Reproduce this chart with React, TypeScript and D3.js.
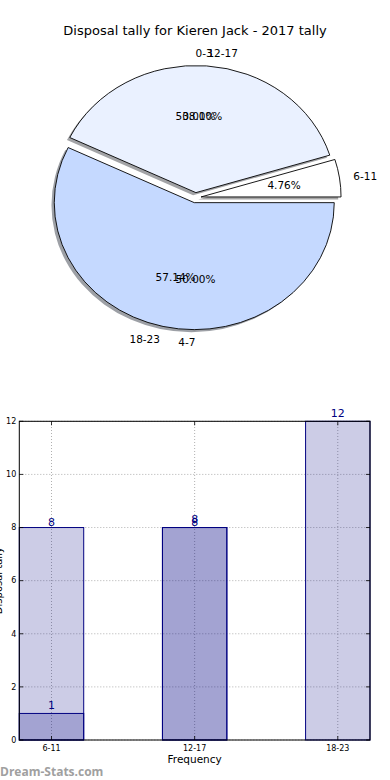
import * as d3 from 'd3';

// pie data
const pieBLabels = ['0-3', '4-7'];
const pieBValues = [8, 8];
const pieALabels = ['6-11', '12-17', '18-23'];
const pieAValues = [1, 8, 12];
const pieAColors = ['#ffffff', '#eaf1ff', '#c5d9ff'];

// bar data
const barCategories = ['6-11', '12-17', '18-23'];
const barSeriesA = [8, 8];
const barSeriesB = [1, 8, 12];
const yTicks = [0, 2, 4, 6, 8, 10, 12];

const W = 390;
const H = 780;
const FONT = 'DejaVu Sans, sans-serif';

// pie geometry
const cx = 195.5;
const cy = 197.7;
const rx = 140;
const ry = 127;
const explode = 0.04;

type Slice = { label: string; value: number; t1: number; t2: number; tm: number; frac: number };

const slices = (labels: string[], values: number[]): Slice[] => {
  const total = d3.sum(values);
  const arcs = d3.pie<number>().sort(null).startAngle(0).endAngle(2 * Math.PI)(values);
  return arcs.map((a, i) => ({
    label: labels[i],
    value: values[i],
    t1: a.startAngle,
    t2: a.endAngle,
    tm: (a.startAngle + a.endAngle) / 2,
    frac: values[i] / total,
  }));
};

const unitArc = d3.arc<{ startAngle: number; endAngle: number }>().innerRadius(0).outerRadius(1);

const PieLabels = ({ data }: { data: Slice[] }) => (
  <g fontFamily={FONT} fontSize={10.5} fill="#000">
    {data.map((s, i) => {
      const ox = cx + explode * rx * Math.cos(s.tm);
      const oy = cy - explode * ry * Math.sin(s.tm);
      const lx = ox + 1.1 * rx * Math.cos(s.tm);
      const ly = oy - 1.1 * ry * Math.sin(s.tm);
      const px = ox + 0.6 * rx * Math.cos(s.tm);
      const py = oy - 0.6 * ry * Math.sin(s.tm);
      return (
        <g key={i}>
          <text x={lx} y={ly} dy="0.35em" textAnchor={Math.cos(s.tm) > 0 ? 'start' : 'end'}>
            {s.label}
          </text>
          <text x={px} y={py} dy="0.35em" textAnchor="middle">
            {(s.frac * 100).toFixed(2)}%
          </text>
        </g>
      );
    })}
  </g>
);

const PieChart = () => {
  const a = slices(pieALabels, pieAValues);
  const b = slices(pieBLabels, pieBValues);
  const wedge = (s: Slice, dx: number, dy: number) => {
    const ox = cx + explode * rx * Math.cos(s.tm) + dx;
    const oy = cy - explode * ry * Math.sin(s.tm) + dy;
    return {
      d: unitArc({ startAngle: Math.PI / 2 - s.t1, endAngle: Math.PI / 2 - s.t2 }) as string,
      transform: `translate(${ox},${oy}) scale(${rx},${ry})`,
    };
  };
  return (
    <g>
      {a.map((s, i) => {
        const w = wedge(s, -0.02 * rx, 0.02 * ry);
        const c = d3.rgb(pieAColors[i]);
        return (
          <path key={'s' + i} d={w.d} transform={w.transform}
            fill={d3.rgb(c.r * 0.3, c.g * 0.3, c.b * 0.3).toString()} fillOpacity={0.5} />
        );
      })}
      {a.map((s, i) => {
        const w = wedge(s, 0, 0);
        return (
          <path key={'w' + i} d={w.d} transform={w.transform} fill={pieAColors[i]}
            stroke="#000" strokeWidth={0.9} vectorEffect="non-scaling-stroke" strokeLinejoin="miter" />
        );
      })}
      <PieLabels data={b} />
      <PieLabels data={a} />
    </g>
  );
};

// bar chart
const bx0 = 19.3;
const bx1 = 370;
const by0 = 740;
const by1 = 421.3;
const barW = 0.45;

const BarChart = () => {
  const x = d3.scaleLinear().domain([-barW / 2, barCategories.length - 1 + barW / 2]).range([bx0, bx1]);
  const y = d3.scaleLinear().domain([0, 12]).range([by0, by1]);
  const fill = 'rgba(0,0,128,0.2)';
  const bar = (v: number, i: number, key: string) => (
    <rect key={key} x={x(i - barW / 2)} y={y(v)} width={x(barW) - x(0)} height={y(0) - y(v)}
      fill={fill} stroke="#000080" strokeWidth={1} />
  );
  return (
    <g>
      {/* grid */}
      <g stroke="#b0b0b0" strokeWidth={1} strokeDasharray="1,2">
        {yTicks.map(t => (
          <line key={'gy' + t} x1={bx0} x2={bx1} y1={y(t)} y2={y(t)} />
        ))}
        {barCategories.map((c, i) => (
          <line key={'gx' + c} x1={x(i)} x2={x(i)} y1={by0} y2={by1} />
        ))}
      </g>
      {barSeriesA.map((v, i) => bar(v, i, 'a' + i))}
      {barSeriesB.map((v, i) => bar(v, i, 'b' + i))}
      {/* value labels */}
      <g fontFamily={FONT} fontSize={11} fill="#000080" textAnchor="middle">
        {barSeriesA.map((v, i) => (
          <text key={'la' + i} x={x(i)} y={y(v) - 2}>{v}</text>
        ))}
        {barSeriesB.map((v, i) => (
          <text key={'lb' + i} x={x(i)} y={y(v) - 4.5}>{v}</text>
        ))}
      </g>
      {/* frame */}
      <rect x={bx0} y={by1} width={bx1 - bx0} height={by0 - by1} fill="none" stroke="#000" strokeWidth={1} />
      {/* ticks */}
      <g stroke="#000" strokeWidth={0.8}>
        {yTicks.map(t => (
          <g key={'t' + t}>
            <line x1={bx0} x2={bx0 + 4} y1={y(t)} y2={y(t)} />
            <line x1={bx1} x2={bx1 - 4} y1={y(t)} y2={y(t)} />
          </g>
        ))}
        {barCategories.map((c, i) => (
          <g key={'tx' + c}>
            <line x1={x(i)} x2={x(i)} y1={by0} y2={by0 - 4} />
            <line x1={x(i)} x2={x(i)} y1={by1} y2={by1 + 4} />
          </g>
        ))}
      </g>
      <g fontFamily={FONT} fontSize={8} fill="#000">
        {yTicks.map(t => (
          <text key={'yl' + t} x={bx0 - 3} y={y(t)} dy="0.35em" textAnchor="end">{t}</text>
        ))}
        {barCategories.map((c, i) => (
          <text key={'xl' + c} x={x(i)} y={751} textAnchor="middle">{c}</text>
        ))}
      </g>
      <text x={(bx0 + bx1) / 2} y={763} textAnchor="middle" fontFamily={FONT} fontSize={10.5}>Frequency</text>
      <text transform={`translate(1.5,${(by0 + by1) / 2}) rotate(-90)`} textAnchor="middle"
        fontFamily={FONT} fontSize={10}>Disposal tally</text>
    </g>
  );
};

export default function App() {
  return (
    <svg width={W} height={H} style={{ position: 'absolute', left: 0, top: 0, background: '#fff' }}>
      <rect width={W} height={H} fill="#fff" />
      <text x={W / 2} y={35} textAnchor="middle" fontFamily={FONT} fontSize={13}>
        Disposal tally for Kieren Jack - 2017 tally
      </text>
      <PieChart />
      <BarChart />
      <text x={0} y={776} fontFamily="Open Sans, sans-serif" fontWeight="bold" fontSize={12} fill="#a0a0a0">
        Dream-Stats.com
      </text>
    </svg>
  );
}
